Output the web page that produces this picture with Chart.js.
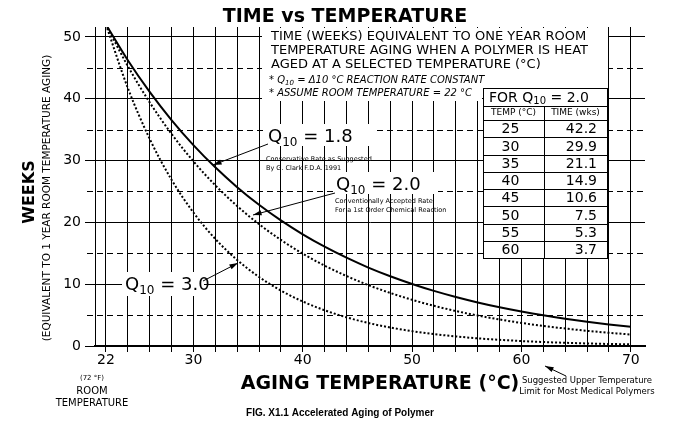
<!DOCTYPE html>
<html>
<head>
<meta charset="utf-8">
<script src="https://cdn.jsdelivr.net/npm/chart.js@4.4.1/dist/chart.umd.min.js"></script>
<style>
  body { margin: 0; background: #fff; }
  #wrap { width: 680px; height: 428px; }
</style>
</head>
<body>
<div id="wrap"><canvas id="agingchart" width="680" height="428"></canvas></div>
<script>
const temps = [22, 24, 26, 28, 30, 32, 34, 36, 38, 40, 42, 44, 46, 48, 50, 52, 54, 56, 58, 60, 62, 64, 66, 68, 70];
const weeksQ18 = [52, 46.23, 41.11, 36.55, 32.50, 28.90, 25.69, 22.84, 20.31, 18.06, 16.06, 14.28, 12.69, 11.29, 10.04, 8.92, 7.93, 7.05, 6.27, 5.58, 4.96, 4.41, 3.92, 3.49, 3.10];
const weeksQ20 = [52, 45.27, 39.41, 34.31, 29.87, 26.00, 22.64, 19.71, 17.16, 14.94, 13.00, 11.32, 9.85, 8.58, 7.47, 6.50, 5.66, 4.93, 4.29, 3.73, 3.25, 2.83, 2.46, 2.14, 1.86];
const weeksQ30 = [52, 41.74, 33.51, 26.90, 21.59, 17.33, 13.91, 11.17, 8.97, 7.20, 5.78, 4.64, 3.72, 2.99, 2.40, 1.93, 1.55, 1.24, 1.00, 0.80, 0.64, 0.52, 0.41, 0.33, 0.27];
const xTickLabels = [22, 30, 40, 50, 60, 70];
const yTickLabels = [0, 10, 20, 30, 40, 50];
const dashedWeeks = [5, 15, 25, 35, 45];
const tableTemps = [25, 30, 35, 40, 45, 50, 55, 60];
const tableWeeks = ['42.2', '29.9', '21.1', '14.9', '10.6', '7.5', '5.3', '3.7'];

const FONT = '"DejaVu Sans", Verdana, sans-serif';

function pts(ys) {
  return temps.map((t, i) => ({ x: t, y: ys[i] }));
}

function whiteBox(ctx, x, y, w, h) {
  ctx.fillStyle = '#fff';
  ctx.fillRect(x, y, w, h);
}

function arrow(ctx, x1, y1, x2, y2) {
  ctx.save();
  ctx.strokeStyle = '#000';
  ctx.fillStyle = '#000';
  ctx.lineWidth = 1;
  ctx.beginPath(); ctx.moveTo(x1, y1); ctx.lineTo(x2, y2); ctx.stroke();
  const a = Math.atan2(y2 - y1, x2 - x1);
  ctx.beginPath();
  ctx.moveTo(x2, y2);
  ctx.lineTo(x2 - 9 * Math.cos(a - 0.3), y2 - 9 * Math.sin(a - 0.3));
  ctx.lineTo(x2 - 9 * Math.cos(a + 0.3), y2 - 9 * Math.sin(a + 0.3));
  ctx.closePath(); ctx.fill();
  ctx.restore();
}

function qLabel(ctx, x, y, val) {
  ctx.font = '18px ' + FONT;
  ctx.textAlign = 'left';
  ctx.textBaseline = 'alphabetic';
  ctx.fillText('Q', x, y);
  let w = ctx.measureText('Q').width;
  ctx.font = '12px ' + FONT;
  ctx.fillText('10', x + w, y + 4);
  w += ctx.measureText('10').width;
  ctx.font = '18px ' + FONT;
  ctx.fillText(' = ' + val, x + w, y);
}

const extras = {
  id: 'extras',
  beforeDatasetsDraw(chart) {
    const ctx = chart.ctx;
    const ys = chart.scales.y, area = chart.chartArea;
    ctx.save();
    // dashed half-way lines
    ctx.strokeStyle = '#000';
    ctx.lineWidth = 1;
    ctx.setLineDash([6, 4]);
    dashedWeeks.forEach(v => {
      const p = Math.round(ys.getPixelForValue(v)) + 0.5;
      ctx.beginPath(); ctx.moveTo(area.left - 8, p); ctx.lineTo(area.right, p); ctx.stroke();
    });
    ctx.setLineDash([]);

    // description box
    whiteBox(ctx, 262, area.top + 1, 346, 70);
    whiteBox(ctx, 262, area.top + 1, 220, 73);
    ctx.fillStyle = '#000';
    ctx.font = '13px ' + FONT;
    ctx.textAlign = 'left';
    ctx.textBaseline = 'middle';
    ctx.fillText('TIME (WEEKS) EQUIVALENT TO ONE YEAR ROOM', 271, 37);
    ctx.fillText('TEMPERATURE AGING WHEN A POLYMER IS HEAT', 271, 51);
    ctx.fillText('AGED AT A SELECTED TEMPERATURE (°C)', 271, 65);
    ctx.font = 'italic 10px ' + FONT;
    ctx.fillText('* Q', 269, 80);
    let w = ctx.measureText('* Q').width;
    ctx.font = 'italic 7px ' + FONT;
    ctx.fillText('10', 269 + w, 83);
    w += ctx.measureText('10').width;
    ctx.font = 'italic 10px ' + FONT;
    ctx.fillText(' = Δ10 °C REACTION RATE CONSTANT', 269 + w, 80);
    ctx.fillText('* ASSUME ROOM TEMPERATURE = 22 °C', 269, 93);

    // table
    const tx = 483, tw = 124, ty = 88, colX = 544;
    const rowH = 17.25, hdrBottom = 120;
    whiteBox(ctx, tx, ty, tw, hdrBottom - ty + rowH * tableTemps.length);
    ctx.strokeStyle = '#000';
    ctx.lineWidth = 1;
    ctx.strokeRect(tx + 0.5, ty + 0.5, tw, hdrBottom - ty + rowH * tableTemps.length);
    ctx.beginPath();
    ctx.moveTo(tx, 106.5); ctx.lineTo(tx + tw, 106.5);
    ctx.moveTo(colX + 0.5, 106); ctx.lineTo(colX + 0.5, hdrBottom + rowH * tableTemps.length);
    for (let i = 0; i < tableTemps.length; i++) {
      const yy = Math.round(hdrBottom + rowH * i) + 0.5;
      ctx.moveTo(tx, yy); ctx.lineTo(tx + tw, yy);
    }
    ctx.stroke();
    ctx.fillStyle = '#000';
    ctx.font = '14px ' + FONT;
    ctx.textAlign = 'left';
    ctx.fillText('FOR Q', 489, 98);
    w = ctx.measureText('FOR Q').width;
    ctx.font = '10px ' + FONT;
    ctx.fillText('10', 489 + w, 101);
    w += ctx.measureText('10').width;
    ctx.font = '14px ' + FONT;
    ctx.fillText(' = 2.0', 489 + w, 98);
    ctx.font = '9px ' + FONT;
    ctx.textAlign = 'center';
    ctx.fillText('TEMP (°C)', (tx + colX) / 2, 113);
    ctx.fillText('TIME (wks)', (colX + tx + tw) / 2, 113);
    ctx.font = '14px ' + FONT;
    tableTemps.forEach((t, i) => {
      const yy = hdrBottom + rowH * (i + 0.5) + 1;
      ctx.textAlign = 'center';
      ctx.fillText(String(t), (tx + colX) / 2 - 3, yy);
      ctx.textAlign = 'right';
      ctx.fillText(tableWeeks[i], 597, yy);
    });

    // Q annotations backgrounds
    whiteBox(ctx, 266, 124, 108, 22);
    whiteBox(ctx, 334, 172, 104, 22);
    whiteBox(ctx, 122, 272, 82, 24);
    ctx.restore();
  },
  afterDatasetsDraw(chart) {
    const ctx = chart.ctx;
    ctx.save();
    ctx.fillStyle = '#000';
    qLabel(ctx, 268, 142, '1.8');
    ctx.font = '6.5px ' + FONT;
    ctx.textAlign = 'left';
    ctx.textBaseline = 'middle';
    ctx.fillText('Conservative Rate as Suggested', 266, 159);
    ctx.fillText('By G. Clark F.D.A. 1991', 266, 168);
    arrow(ctx, 268, 144, 213, 165);

    ctx.fillStyle = '#000';
    qLabel(ctx, 336, 190, '2.0');
    ctx.font = '6.5px ' + FONT;
    ctx.textAlign = 'left';
    ctx.textBaseline = 'middle';
    ctx.fillText('Conventionally Accepted Rate', 335, 201);
    ctx.fillText('For a 1st Order Chemical Reaction', 335, 210);
    arrow(ctx, 335, 193, 253, 215);

    ctx.fillStyle = '#000';
    qLabel(ctx, 125, 290, '3.0');
    arrow(ctx, 203, 281, 238, 263);

    // titles
    ctx.fillStyle = '#000';
    ctx.textAlign = 'center';
    ctx.textBaseline = 'middle';
    ctx.font = 'bold 19px ' + FONT;
    ctx.fillText('TIME vs TEMPERATURE', 345, 17);
    ctx.font = 'bold 19px ' + FONT;
    ctx.fillText('AGING TEMPERATURE (°C)', 380, 384);
    ctx.font = 'bold 10px "Liberation Sans", Arial, sans-serif';
    ctx.fillText('FIG. X1.1 Accelerated Aging of Polymer', 340, 413);
    ctx.font = '7px ' + FONT;
    ctx.fillText('(72 °F)', 92, 378);
    ctx.font = '10px ' + FONT;
    ctx.fillText('ROOM', 92, 391);
    ctx.fillText('TEMPERATURE', 92, 403);
    ctx.font = '8.5px ' + FONT;
    ctx.fillText('Suggested Upper Temperature', 587, 381);
    ctx.fillText('Limit for Most Medical Polymers', 587, 392);
    arrow(ctx, 566, 376, 545, 366);

    ctx.save();
    ctx.translate(30, 192);
    ctx.rotate(-Math.PI / 2);
    ctx.font = 'bold 16px ' + FONT;
    ctx.fillText('WEEKS', 0, 0);
    ctx.restore();
    ctx.save();
    ctx.translate(47, 198);
    ctx.rotate(-Math.PI / 2);
    ctx.font = '10.5px ' + FONT;
    ctx.fillText('(EQUIVALENT TO 1 YEAR ROOM TEMPERATURE AGING)', 0, 0);
    ctx.restore();
    ctx.restore();
  }
};

const agingchart = new Chart(document.getElementById('agingchart'), {
  type: 'line',
  data: {
    datasets: [
      { label: 'Q10 = 1.8', data: pts(weeksQ18), borderColor: '#000', borderWidth: 2, pointRadius: 0, cubicInterpolationMode: 'monotone', fill: false },
      { label: 'Q10 = 2.0', data: pts(weeksQ20), borderColor: '#000', borderWidth: 2, borderDash: [2, 2], pointRadius: 0, cubicInterpolationMode: 'monotone', fill: false },
      { label: 'Q10 = 3.0', data: pts(weeksQ30), borderColor: '#000', borderWidth: 2, borderDash: [2, 2], pointRadius: 0, cubicInterpolationMode: 'monotone', fill: false }
    ]
  },
  options: {
    responsive: false,
    animation: false,
    layout: { padding: { left: 0, right: 35, top: 27, bottom: 64 } },
    plugins: { legend: { display: false }, tooltip: { enabled: false } },
    scales: {
      x: {
        type: 'linear',
        min: 21,
        max: 71.3,
        afterBuildTicks(scale) {
          scale.ticks = temps.map(v => ({ value: v }));
        },
        afterFit(scale) { scale.height = 18; },
        ticks: {
          autoSkip: false,
          maxRotation: 0,
          padding: 0,
          color: '#000',
          font: { family: FONT, size: 14 },
          callback: v => xTickLabels.includes(v) ? String(v) : ''
        },
        grid: { color: '#000', lineWidth: 1, tickLength: 6, drawOnChartArea: true },
        border: { color: '#000', width: 2 }
      },
      y: {
        min: 0,
        max: 51.6,
        afterBuildTicks(scale) {
          scale.ticks = yTickLabels.map(v => ({ value: v }));
        },
        afterFit(scale) { scale.width = 95; },
        ticks: {
          color: '#000',
          padding: 4,
          font: { family: FONT, size: 14 }
        },
        grid: { color: '#000', lineWidth: 1, tickLength: 10 },
        border: { color: '#000', width: 1 }
      }
    }
  },
  plugins: [extras]
});
</script>
</body>
</html>
